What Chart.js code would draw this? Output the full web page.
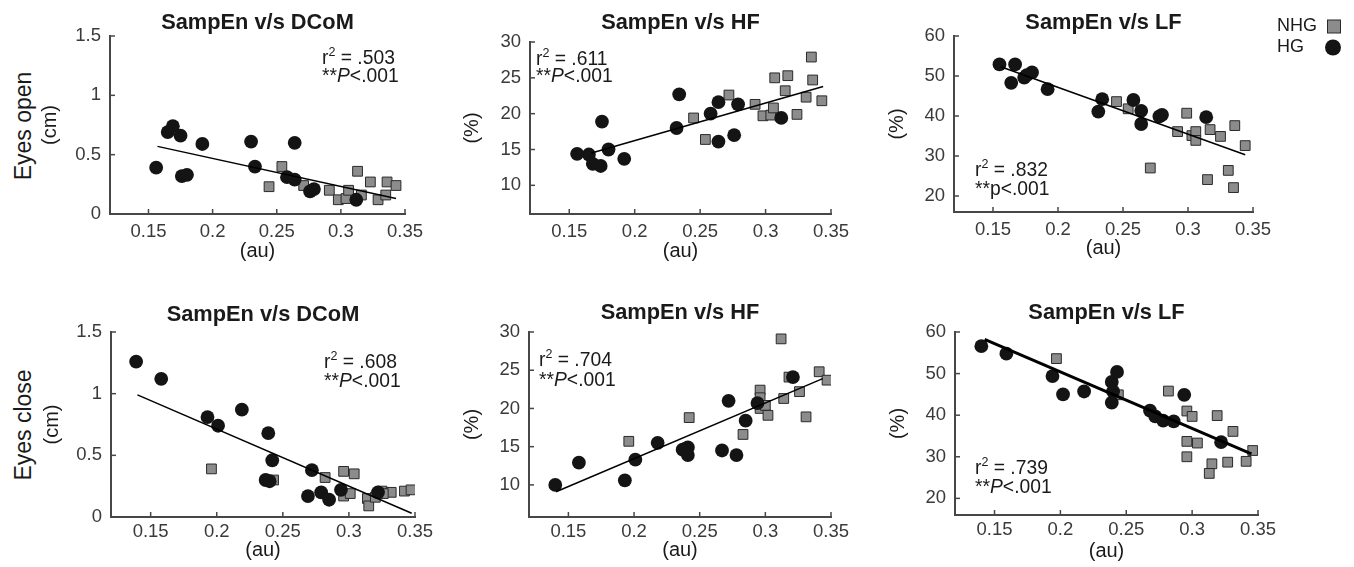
<!DOCTYPE html>
<html>
<head>
<meta charset="utf-8">
<script src="https://cdn.jsdelivr.net/npm/chart.js@4.4.1/dist/chart.umd.min.js"></script>
<style>
  html, body { margin: 0; padding: 0; background: #fff; }
  body { width: 1354px; height: 567px; position: relative; overflow: hidden; }
  canvas { position: absolute; }
  .rowlab { position: absolute; white-space: nowrap; font-family: "Liberation Sans", Arial, sans-serif;
            font-size: 23px; color: #1a1a1a; transform: translate(-50%, -50%) rotate(-90deg); }
</style>
</head>
<body>
<div class="rowlab" style="left:23px; top:126px;">Eyes open</div>
<div class="rowlab" style="left:23px; top:425px;">Eyes close</div>
<script>
// ---------------- DATA ----------------
const groupLabels = ['NHG', 'HG'];
const xTicks = [0.15, 0.2, 0.25, 0.3, 0.35];
const xTickLabels = ['0.15', '0.2', '0.25', '0.3', '0.35'];
const dcomTicks = [0, 0.5, 1, 1.5];
const dcomTickLabels = ['0', '0.5', '1', '1.5'];
const hfTicks = [10, 15, 20, 25, 30];
const hfTickLabels = ['10', '15', '20', '25', '30'];
const lfTicks = [20, 30, 40, 50, 60];
const lfTickLabels = ['20', '30', '40', '50', '60'];
const panelTitles = ['SampEn v/s DCoM', 'SampEn v/s HF', 'SampEn v/s LF'];
const r2Values = ['.503', '.611', '.832', '.608', '.704', '.739'];

// Eyes open - DCoM
const eoDcomHG_x = [0.156,0.165,0.169,0.175,0.176,0.180,0.192,0.230,0.233,0.258,0.264,0.264,0.276,0.279,0.312];
const eoDcomHG_y = [0.39,0.69,0.74,0.66,0.32,0.33,0.59,0.61,0.40,0.31,0.29,0.60,0.19,0.21,0.12];
const eoDcomNHG_x = [0.244,0.254,0.271,0.291,0.298,0.304,0.306,0.316,0.313,0.323,0.329,0.336,0.335,0.343];
const eoDcomNHG_y = [0.23,0.40,0.24,0.20,0.12,0.13,0.20,0.16,0.36,0.27,0.12,0.27,0.16,0.24];
const eoDcomFit_x = [0.157, 0.343];
const eoDcomFit_y = [0.57, 0.13];

// Eyes open - HF
const eoHfHG_x = [0.156,0.165,0.168,0.174,0.175,0.180,0.192,0.232,0.234,0.258,0.264,0.264,0.276,0.279,0.312];
const eoHfHG_y = [14.4,14.3,13.0,12.7,18.9,15.0,13.7,18.0,22.7,20.0,21.6,16.1,17.0,21.3,19.4];
const eoHfNHG_x = [0.245,0.254,0.272,0.292,0.298,0.304,0.306,0.307,0.315,0.317,0.324,0.331,0.335,0.336,0.343];
const eoHfNHG_y = [19.4,16.4,22.6,21.3,19.7,19.8,20.8,25.0,23.2,25.3,19.9,22.3,27.9,24.7,21.8];
const eoHfFit_x = [0.167, 0.344];
const eoHfFit_y = [14.5, 23.8];

// Eyes open - LF
const eoLfHG_x = [0.155,0.164,0.167,0.174,0.176,0.180,0.192,0.231,0.234,0.258,0.264,0.264,0.278,0.280,0.314];
const eoLfHG_y = [52.9,48.3,52.9,49.6,50.2,50.9,46.7,41.1,44.2,44.0,41.3,38.0,39.9,40.3,39.7];
const eoLfNHG_x = [0.245,0.254,0.271,0.292,0.299,0.303,0.306,0.306,0.317,0.315,0.325,0.331,0.336,0.335,0.344];
const eoLfNHG_y = [43.6,41.8,27.0,36.1,40.7,35.1,36.1,33.9,36.6,24.1,34.9,26.4,37.6,22.1,32.6];
const eoLfFit_x = [0.156, 0.344];
const eoLfFit_y = [52.3, 30.3];

// Eyes close - DCoM
const ecDcomHG_x = [0.139,0.158,0.193,0.201,0.219,0.239,0.242,0.237,0.240,0.272,0.269,0.279,0.285,0.294,0.322];
const ecDcomHG_y = [1.26,1.12,0.81,0.74,0.87,0.68,0.46,0.30,0.29,0.38,0.17,0.20,0.14,0.22,0.20];
const ecDcomNHG_x = [0.196,0.243,0.282,0.296,0.304,0.296,0.301,0.314,0.315,0.325,0.332,0.342,0.347,0.326,0.320];
const ecDcomNHG_y = [0.39,0.30,0.32,0.37,0.35,0.17,0.19,0.15,0.09,0.21,0.20,0.21,0.22,0.19,0.16];
const ecDcomFit_x = [0.140, 0.3475];
const ecDcomFit_y = [0.99, 0.03];

// Eyes close - HF
const ecHfHG_x = [0.140,0.158,0.193,0.201,0.218,0.239,0.241,0.241,0.237,0.267,0.272,0.278,0.285,0.294,0.321];
const ecHfHG_y = [10.0,12.9,10.6,13.3,15.5,14.7,14.9,13.9,14.6,14.5,21.0,13.9,18.4,20.7,24.1];
const ecHfNHG_x = [0.196,0.242,0.283,0.296,0.296,0.296,0.300,0.302,0.312,0.314,0.318,0.326,0.331,0.341,0.347];
const ecHfNHG_y = [15.7,18.8,16.6,22.4,21.4,20.0,20.4,19.1,29.1,21.3,24.1,22.2,18.9,24.8,23.7];
const ecHfFit_x = [0.1406, 0.3437];
const ecHfFit_y = [9.1, 23.9];

// Eyes close - LF
const ecLfHG_x = [0.140,0.159,0.194,0.202,0.218,0.239,0.243,0.240,0.239,0.268,0.272,0.278,0.286,0.294,0.322];
const ecLfHG_y = [56.6,54.8,49.4,45.0,45.7,48.0,50.4,45.7,43.0,41.1,39.7,38.7,38.5,44.9,33.5];
const ecLfNHG_x = [0.197,0.244,0.282,0.296,0.300,0.296,0.296,0.304,0.319,0.315,0.313,0.327,0.331,0.341,0.346];
const ecLfNHG_y = [53.6,44.9,45.8,41.0,39.7,33.7,30.0,33.3,39.9,28.3,26.0,28.7,36.1,28.9,31.5];
const ecLfFit_x = [0.1425, 0.345];
const ecLfFit_y = [58.2, 30.7];

// ---------------- STYLE / LAYOUT ----------------
const FONT = '"Liberation Sans", Arial, Helvetica, sans-serif';
const AXIS_COLOR = '#474747';
const TICK_COLOR = '#3a3a3a';
const TEXT_COLOR = '#1a1a1a';
const TICK_SIZE = 18.5, TITLE_SIZE = 21.8, AXTITLE_SIZE = 20, STAT_SIZE = 19.3;

const pts = (xs, ys) => xs.map((x, i) => ({ x: x, y: ys[i] }));

const inwardTicks = {
  id: 'inwardTicks',
  beforeDatasetsDraw(chart) {
    const { ctx, chartArea: a, scales: { x, y } } = chart;
    ctx.save();
    ctx.strokeStyle = AXIS_COLOR;
    ctx.lineWidth = 1.5;
    x.ticks.forEach(t => {
      const px = x.getPixelForValue(t.value);
      ctx.beginPath(); ctx.moveTo(px, a.bottom); ctx.lineTo(px, a.bottom - 5); ctx.stroke();
    });
    y.ticks.forEach(t => {
      const py = y.getPixelForValue(t.value);
      ctx.beginPath(); ctx.moveTo(a.left, py); ctx.lineTo(a.left + 5, py); ctx.stroke();
    });
    ctx.restore();
  }
};

const statText = {
  id: 'statText',
  afterDatasetsDraw(chart, args, opts) {
    if (!opts || !opts.r2) return;
    const { ctx } = chart;
    const ox = chart.canvas.offsetLeft, oy = chart.canvas.offsetTop;
    const x = opts.x - ox, b1 = opts.b1 - oy, b2 = opts.b2 - oy;
    ctx.save();
    ctx.fillStyle = TEXT_COLOR;
    ctx.textBaseline = 'alphabetic';
    ctx.textAlign = 'left';
    const f = STAT_SIZE + 'px ' + FONT;
    ctx.font = f;
    ctx.fillText('r', x, b1);
    let cx = x + ctx.measureText('r').width;
    ctx.font = '12.5px ' + FONT;
    ctx.fillText('2', cx, b1 - 8);
    cx += ctx.measureText('2').width;
    ctx.font = f;
    ctx.fillText(' = ' + opts.r2, cx, b1);
    ctx.fillText('**', x, b2);
    cx = x + ctx.measureText('**').width;
    ctx.font = (opts.italic ? 'italic ' : '') + f;
    ctx.fillText(opts.pChar, cx, b2);
    cx += ctx.measureText(opts.pChar).width;
    ctx.font = f;
    ctx.fillText('<.001', cx, b2);
    ctx.restore();
  }
};

const sideLegend = {
  id: 'sideLegend',
  afterDraw(chart, args, opts) {
    if (!opts || !opts.show) return;
    const { ctx } = chart;
    const ox = chart.canvas.offsetLeft, oy = chart.canvas.offsetTop;
    ctx.save();
    ctx.font = '18px ' + FONT;
    ctx.fillStyle = TEXT_COLOR;
    ctx.textBaseline = 'middle';
    ctx.textAlign = 'left';
    const nhg = chart.data.datasets.find(d => d.label === groupLabels[0]);
    const hg = chart.data.datasets.find(d => d.label === groupLabels[1]);
    ctx.fillText(nhg.label, opts.textX - ox, opts.y1 - oy);
    ctx.fillText(hg.label, opts.textX - ox, opts.y2 - oy);
    ctx.fillStyle = nhg.backgroundColor;
    ctx.strokeStyle = nhg.borderColor;
    ctx.lineWidth = 1;
    ctx.fillRect(opts.markX - ox - 6.5, opts.y1 - oy - 6.5, 13, 13);
    ctx.strokeRect(opts.markX - ox - 6.5, opts.y1 - oy - 6.5, 13, 13);
    ctx.fillStyle = hg.backgroundColor;
    ctx.beginPath();
    ctx.arc(opts.markX - ox - 1, opts.y2 - oy, 8, 0, Math.PI * 2);
    ctx.fill();
    ctx.restore();
  }
};

const panels = [
  { title: panelTitles[0], hgX: eoDcomHG_x, hgY: eoDcomHG_y, nhgX: eoDcomNHG_x, nhgY: eoDcomNHG_y, fitX: eoDcomFit_x, fitY: eoDcomFit_y,
    yMin: 0, yMax: 1.5, yTicks: dcomTicks, yLabels: dcomTickLabels, yTitle: '(cm)', r2: r2Values[0], pChar: 'P', italic: true,
    L: { area: { l: 110, r: 405, t: 36, b: 214 }, canvasTop: 0, titleY: 22.7, yTitleX: 50, xTickY: 231.5, xTitleY: 251, sx: 322, b1: 64, b2: 81.5, fitW: 1.5 } },
  { title: panelTitles[1], hgX: eoHfHG_x, hgY: eoHfHG_y, nhgX: eoHfNHG_x, nhgY: eoHfNHG_y, fitX: eoHfFit_x, fitY: eoHfFit_y,
    yMin: 6, yMax: 30, yTicks: hfTicks, yLabels: hfTickLabels, yTitle: '(%)', r2: r2Values[1], pChar: 'P', italic: true,
    L: { area: { l: 530, r: 831, t: 42, b: 214 }, canvasTop: 0, titleY: 23, yTitleX: 472, xTickY: 231.5, xTitleY: 251, sx: 536, b1: 65, b2: 81.7, fitW: 1.5 } },
  { title: panelTitles[2], hgX: eoLfHG_x, hgY: eoLfHG_y, nhgX: eoLfNHG_x, nhgY: eoLfNHG_y, fitX: eoLfFit_x, fitY: eoLfFit_y,
    yMin: 16, yMax: 60, yTicks: lfTicks, yLabels: lfTickLabels, yTitle: '(%)', r2: r2Values[2], pChar: 'p', italic: false,
    L: { area: { l: 954, r: 1253, t: 36, b: 212 }, canvasTop: 0, titleY: 23, yTitleX: 897, xTickY: 229.5, xTitleY: 248, sx: 975, b1: 176, b2: 195, fitW: 1.5, right: 101,
         legend: { show: true, textX: 1277, markX: 1334, y1: 26.5, y2: 47.5 } } },
  { title: panelTitles[0], hgX: ecDcomHG_x, hgY: ecDcomHG_y, nhgX: ecDcomNHG_x, nhgY: ecDcomNHG_y, fitX: ecDcomFit_x, fitY: ecDcomFit_y,
    yMin: 0, yMax: 1.5, yTicks: dcomTicks, yLabels: dcomTickLabels, yTitle: '(cm)', r2: r2Values[3], pChar: 'P', italic: true,
    L: { area: { l: 111, r: 415, t: 332, b: 517 }, canvasTop: 280, titleY: 315, yTitleX: 52, xTickY: 532, xTitleY: 550, sx: 324, b1: 368.3, b2: 386.7, fitW: 1.5 } },
  { title: panelTitles[1], hgX: ecHfHG_x, hgY: ecHfHG_y, nhgX: ecHfNHG_x, nhgY: ecHfNHG_y, fitX: ecHfFit_x, fitY: ecHfFit_y,
    yMin: 5.8, yMax: 30, yTicks: hfTicks, yLabels: hfTickLabels, yTitle: '(%)', r2: r2Values[4], pChar: 'P', italic: true,
    L: { area: { l: 529, r: 831, t: 332, b: 517 }, canvasTop: 280, titleY: 313, yTitleX: 472, xTickY: 532, xTitleY: 550.5, sx: 539, b1: 366, b2: 386, fitW: 1.5 } },
  { title: panelTitles[2], hgX: ecLfHG_x, hgY: ecLfHG_y, nhgX: ecLfNHG_x, nhgY: ecLfNHG_y, fitX: ecLfFit_x, fitY: ecLfFit_y,
    yMin: 16, yMax: 60, yTicks: lfTicks, yLabels: lfTickLabels, yTitle: '(%)', r2: r2Values[5], pChar: 'P', italic: true,
    L: { area: { l: 955, r: 1258, t: 332, b: 515 }, canvasTop: 280, titleY: 313, yTitleX: 898, xTickY: 530, xTitleY: 551, sx: 975, b1: 474, b2: 493, fitW: 3 } }
];

const YW = 80, XH = 62;
panels.forEach((p, idx) => {
  const L = p.L, a = L.area;
  const R = L.right || 30;
  const T = a.t - L.canvasTop;
  const canvasLeft = a.l - YW;
  const cw = (a.r - a.l) + YW + R;
  const ch = T + (a.b - a.t) + XH;
  const cv = document.createElement('canvas');
  cv.width = cw; cv.height = ch;
  cv.style.left = canvasLeft + 'px'; cv.style.top = L.canvasTop + 'px';
  cv.style.width = cw + 'px'; cv.style.height = ch + 'px';
  document.body.appendChild(cv);

  const lhTitle = TITLE_SIZE * 1.2, lhAx = AXTITLE_SIZE * 1.2, lhTick = TICK_SIZE * 1.2;
  const tPadTop = (L.titleY - L.canvasTop) - lhTitle / 2;
  const tPadBot = T - tPadTop - lhTitle;
  const xTickPad = (L.xTickY - a.b) - lhTick / 2;
  const xTitlePadBot = (a.b + XH) - L.xTitleY - lhAx / 2;
  const yTitlePadTop = (L.yTitleX - canvasLeft) - lhAx / 2;

  new Chart(cv, {
    type: 'scatter',
    data: {
      datasets: [
        { type: 'line', label: 'fit', data: pts(p.fitX, p.fitY), borderColor: '#000', borderWidth: L.fitW,
          pointRadius: 0, fill: false, order: 0 },
        { label: groupLabels[1], data: pts(p.hgX, p.hgY), pointStyle: 'circle', pointRadius: 6.9,
          backgroundColor: '#141414', borderColor: '#141414', borderWidth: 0, order: 1 },
        { label: groupLabels[0], data: pts(p.nhgX, p.nhgY), pointStyle: 'rect', pointRadius: 6.9,
          backgroundColor: '#8c8c8c', borderColor: '#2a2a2a', borderWidth: 1, order: 2 }
      ]
    },
    options: {
      responsive: false, animation: false, events: [],
      layout: { padding: { top: 0, left: 0, right: R, bottom: 0 } },
      plugins: {
        legend: { display: false },
        tooltip: { enabled: false },
        title: { display: true, text: p.title, fullSize: false, color: TEXT_COLOR,
                 font: { family: FONT, size: TITLE_SIZE, weight: 'bold' },
                 padding: { top: tPadTop, bottom: tPadBot } },
        statText: { r2: p.r2, pChar: p.pChar, italic: p.italic, x: L.sx, b1: L.b1, b2: L.b2 },
        sideLegend: L.legend || { show: false }
      },
      scales: {
        x: {
          type: 'linear', position: 'bottom', min: 0.12, max: 0.35,
          afterBuildTicks: s => { s.ticks = xTicks.map(v => ({ value: v })); },
          afterFit: s => { s.height = XH; },
          grid: { display: true, drawOnChartArea: false, drawTicks: false },
          border: { display: true, color: AXIS_COLOR, width: 2 },
          ticks: { autoSkip: false, maxRotation: 0, padding: xTickPad, color: TICK_COLOR,
                   font: { family: FONT, size: TICK_SIZE }, callback: (v, i) => xTickLabels[i] },
          title: { display: true, text: '(au)', color: TEXT_COLOR, font: { family: FONT, size: AXTITLE_SIZE },
                   padding: { top: 0, bottom: xTitlePadBot } }
        },
        y: {
          type: 'linear', position: 'left', min: p.yMin, max: p.yMax,
          afterBuildTicks: s => { s.ticks = p.yTicks.map(v => ({ value: v })); },
          afterFit: s => { s.width = YW; },
          grid: { display: true, drawOnChartArea: false, drawTicks: false },
          border: { display: true, color: AXIS_COLOR, width: 2 },
          ticks: { autoSkip: false, padding: 9, color: TICK_COLOR,
                   font: { family: FONT, size: TICK_SIZE }, callback: (v, i) => p.yLabels[i] },
          title: { display: true, text: p.yTitle, color: TEXT_COLOR, font: { family: FONT, size: AXTITLE_SIZE },
                   padding: { top: yTitlePadTop, bottom: 0 } }
        }
      }
    },
    plugins: [inwardTicks, statText, sideLegend]
  });
});
</script>
</body>
</html>
